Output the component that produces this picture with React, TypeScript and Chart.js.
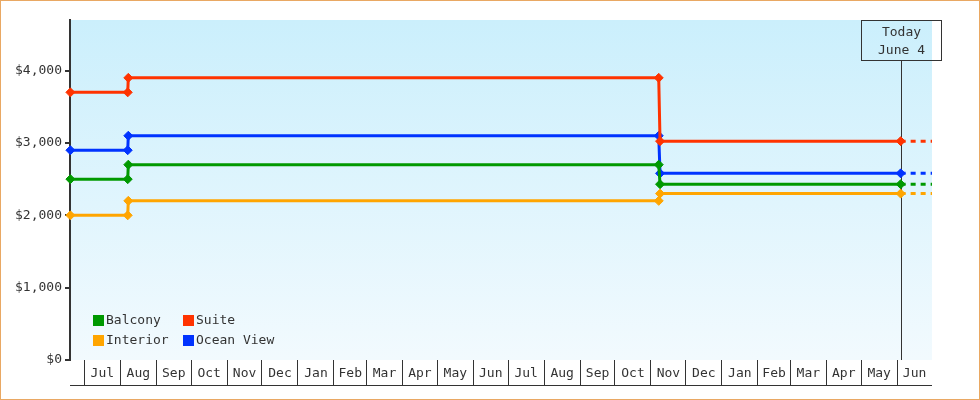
import React, { useEffect, useRef } from "react";
import { Chart, registerables } from "chart.js";

Chart.register(...registerables);

// legend order (two columns, row by row)
const seriesNames = ["Balcony", "Suite", "Interior", "Ocean View"];
const seriesColors = ["#009900", "#ff3300", "#ffa500", "#0033ff"];

// price change dates; last one is the projection to the end of the axis
const pointDates = [
    "2013-06-19T00:00",
    "2013-08-07T09:00",
    "2013-08-07T21:00",
    "2014-11-07T16:00",
    "2014-11-08T19:00",
    "2015-06-04T00:00",
    "2015-07-01T00:00",
];
const balconyPrices = [2500, 2500, 2700, 2700, 2430, 2430, 2430];
const suitePrices = [3700, 3700, 3900, 3900, 3025, 3025, 3025];
const interiorPrices = [2000, 2000, 2200, 2200, 2300, 2300, 2300];
const oceanViewPrices = [2900, 2900, 3100, 3100, 2580, 2580, 2580];

const monthLabels = [
    "Jul", "Aug", "Sep", "Oct", "Nov", "Dec", "Jan", "Feb", "Mar", "Apr", "May", "Jun",
    "Jul", "Aug", "Sep", "Oct", "Nov", "Dec", "Jan", "Feb", "Mar", "Apr", "May", "Jun",
];
const yTickValues = [0, 1000, 2000, 3000, 4000];
const yMax = 4700;

const axisStart = "2013-06-18T16:00";
const axisEnd = "2015-07-01T00:00";
const todayDate = "2015-06-04T00:00";
const todayText = ["Today", "June 4"];

const FONT = "'DejaVu Sans Mono', monospace";
const INK = "#333333";

// days counted from the first month boundary (Jul 1)
const ORIGIN = Date.UTC(2013, 6, 1);
const toDay = (s: string) => (Date.parse(s + "Z") - ORIGIN) / 86400000;

const todayDay = toDay(todayDate);

// month boundaries and label positions
const boundaries: number[] = [];
for (let i = 0; i <= monthLabels.length; i++) {
    boundaries.push((Date.UTC(2013, 6 + i, 1) - ORIGIN) / 86400000);
}
const tickLines = boundaries.slice(0, monthLabels.length);
const labelAt = new Map<number, string>();
monthLabels.forEach((m, i) => labelAt.set((boundaries[i] + boundaries[i + 1]) / 2, m));
const allTicks = [...tickLines, ...labelAt.keys()].sort((a, b) => a - b);

const seriesValues = [balconyPrices, suitePrices, interiorPrices, oceanViewPrices];

const backgroundPlugin = {
    id: "plotBackground",
    beforeDraw(chart: any) {
        const { ctx, chartArea } = chart;
        const g = ctx.createLinearGradient(0, chartArea.top, 0, chartArea.bottom);
        g.addColorStop(0, "#cbeffc");
        g.addColorStop(1, "#f2fafe");
        ctx.save();
        ctx.fillStyle = g;
        ctx.fillRect(chartArea.left, chartArea.top, chartArea.right - chartArea.left, chartArea.bottom - chartArea.top);
        ctx.restore();
    },
};

const todayPlugin = {
    id: "todayMarker",
    beforeDatasetsDraw(chart: any) {
        const { ctx, chartArea } = chart;
        const x = Math.round(chart.scales.x.getPixelForValue(todayDay)) + 0.5;
        const boxW = 80;
        const boxH = 40;
        const top = chartArea.top + 0.5;
        ctx.save();
        ctx.strokeStyle = INK;
        ctx.lineWidth = 1;
        ctx.strokeRect(x - boxW / 2, top, boxW, boxH);
        ctx.beginPath();
        ctx.moveTo(x, top + boxH);
        ctx.lineTo(x, chartArea.bottom);
        ctx.stroke();
        ctx.fillStyle = INK;
        ctx.font = `13px ${FONT}`;
        ctx.textAlign = "center";
        ctx.textBaseline = "middle";
        ctx.fillText(todayText[0], x, top + 12);
        ctx.fillText(todayText[1], x, top + 30);
        ctx.restore();
    },
};

const legendPlugin = {
    id: "innerLegend",
    afterDraw(chart: any) {
        const { ctx, chartArea } = chart;
        ctx.save();
        ctx.font = `13px ${FONT}`;
        ctx.textBaseline = "middle";
        ctx.textAlign = "left";
        seriesNames.forEach((name, i) => {
            const col = i % 2;
            const row = Math.floor(i / 2);
            const x = chartArea.left + 23 + col * 90;
            const y = chartArea.bottom - 40 + row * 20;
            ctx.fillStyle = seriesColors[i];
            ctx.fillRect(x, y - 5, 11, 11);
            ctx.fillStyle = INK;
            ctx.fillText(name, x + 13, y + 1);
        });
        // bottom line of the month band
        ctx.strokeStyle = INK;
        ctx.lineWidth = 1;
        ctx.beginPath();
        ctx.moveTo(chartArea.left, chartArea.bottom + 25.5);
        ctx.lineTo(chartArea.right, chartArea.bottom + 25.5);
        ctx.stroke();
        ctx.restore();
    },
};

const App: React.FC = () => {
    const chartRef = useRef<HTMLCanvasElement | null>(null);
    const chartInstance = useRef<Chart | null>(null);

    useEffect(() => {
        document.body.style.margin = "0";
        if (!chartRef.current) return;
        const ctx = chartRef.current.getContext("2d");
        if (!ctx) return;

        chartInstance.current = new Chart(ctx, {
            type: "line",
            data: {
                datasets: seriesNames.map((name, i) => ({
                    label: name,
                    data: pointDates.map((d, j) => ({ x: toDay(d), y: seriesValues[i][j] })),
                    borderColor: seriesColors[i],
                    backgroundColor: seriesColors[i],
                    borderWidth: 3,
                    clip: false,
                    pointStyle: "rectRot",
                    pointRadius: (c: any) => (c.raw && c.raw.x > todayDay + 0.01 ? 0 : 4.5),
                    pointBorderWidth: 1,
                    pointHoverRadius: 0,
                    tension: 0,
                    segment: {
                        borderDash: (c: any) => (c.p0.parsed.x >= todayDay - 0.01 ? [5, 5] : undefined),
                    },
                })),
            },
            options: {
                animation: false,
                responsive: false,
                events: [],
                layout: { padding: { left: 0, top: 20, right: 48, bottom: 0 } },
                plugins: {
                    legend: { display: false },
                    tooltip: { enabled: false },
                },
                scales: {
                    x: {
                        type: "linear",
                        min: toDay(axisStart),
                        max: toDay(axisEnd),
                        border: { display: false },
                        grid: {
                            drawOnChartArea: false,
                            drawTicks: true,
                            tickLength: 25,
                            lineWidth: 1,
                            color: (c: any) =>
                                c.tick && tickLines.includes(c.tick.value) ? INK : "rgba(0,0,0,0)",
                        },
                        ticks: {
                            autoSkip: false,
                            maxRotation: 0,
                            padding: -19,
                            color: INK,
                            font: { family: FONT, size: 13 },
                            callback: (v: any) => labelAt.get(Number(v)) ?? "",
                        },
                        afterBuildTicks: (s: any) => {
                            s.ticks = allTicks.map((v) => ({ value: v }));
                        },
                        afterFit: (s: any) => {
                            s.height = 40;
                        },
                    },
                    y: {
                        min: 0,
                        max: yMax,
                        border: { display: true, color: INK, width: 2 },
                        grid: { drawOnChartArea: false, tickLength: 5, color: INK, lineWidth: 2 },
                        ticks: {
                            padding: 3,
                            color: INK,
                            font: { family: FONT, size: 13 },
                            callback: (v: any) => "$" + Number(v).toLocaleString("en-US"),
                        },
                        afterBuildTicks: (s: any) => {
                            s.ticks = yTickValues.map((v) => ({ value: v }));
                        },
                        afterFit: (s: any) => {
                            s.width = 70;
                        },
                    },
                },
            },
            plugins: [backgroundPlugin, todayPlugin, legendPlugin],
        });

        return () => {
            if (chartInstance.current !== null) {
                chartInstance.current.destroy();
                chartInstance.current = null;
            }
        };
    }, []);

    return (
        <div style={{ position: "relative", width: 980, height: 400 }}>
            <canvas ref={chartRef} width={980} height={400} style={{ display: "block" }}></canvas>
            <div
                style={{
                    position: "absolute",
                    inset: 0,
                    border: "1px solid #e9a863",
                    boxSizing: "border-box",
                    pointerEvents: "none",
                }}
            />
        </div>
    );
};

export default App;
